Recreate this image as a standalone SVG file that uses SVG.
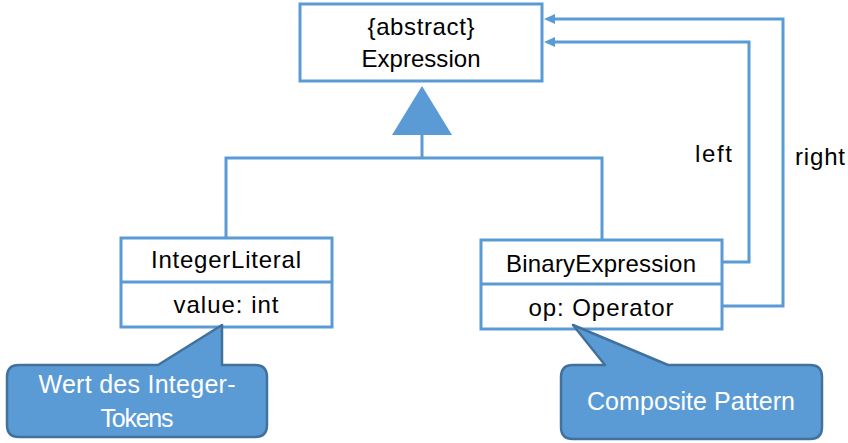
<svg xmlns="http://www.w3.org/2000/svg" width="848" height="443" viewBox="0 0 848 443">
<style>
.box{fill:#fff;stroke:#5B9BD5;stroke-width:3}
.ln{fill:none;stroke:#5B9BD5;stroke-width:3}
.t{font-family:"Liberation Sans",Arial,sans-serif;font-size:24px;fill:#000;text-anchor:middle}
.lbl{font-family:"Liberation Sans",Arial,sans-serif;font-size:24px;fill:#000}
.call{fill:#5B9BD5;stroke:#41719C;stroke-width:2.5;stroke-linejoin:round}
.ct{font-family:"Liberation Sans",Arial,sans-serif;font-size:25px;fill:#fff;text-anchor:middle}
</style>
<g id="connectors">
<polygon points="422,86 392,135 452,135" fill="#5B9BD5"/>
<polyline class="ln" points="422,135 422,158"/>
<polyline class="ln" points="226,237 226,158 602,158 602,239"/>
<polyline class="ln" points="722,262 749,262 749,42 554,42"/>
<polygon points="544,42 555,37 555,47" fill="#5B9BD5"/>
<polyline class="ln" points="722,306 783,306 783,19 554,19"/>
<polygon points="544,19 555,14 555,24" fill="#5B9BD5"/>
<text class="lbl" x="695" y="162" textLength="37">left</text>
<text class="lbl" x="795" y="165" textLength="50">right</text>
</g>
<g id="expression">
<rect class="box" x="300" y="4" width="242" height="77"/>
<text class="t" x="421" y="35" textLength="107">{abstract}</text>
<text class="t" x="421" y="67" textLength="119">Expression</text>
</g>
<g id="integerLiteral">
<rect class="box" x="121" y="238" width="211" height="89"/>
<line class="ln" x1="121" y1="282" x2="332" y2="282"/>
<text class="t" x="226" y="268" textLength="150">IntegerLiteral</text>
<text class="t" x="226" y="313" textLength="105">value: int</text>
</g>
<g id="binaryExpression">
<rect class="box" x="481" y="240" width="241" height="89"/>
<line class="ln" x1="481" y1="284" x2="722" y2="284"/>
<text class="t" x="601" y="272" textLength="190">BinaryExpression</text>
<text class="t" x="601" y="316" textLength="145">op: Operator</text>
</g>
<g id="callout1">
<path class="call" d="M19,365 L158,365 L222,325 L222,365 L255,365 Q267,365 267,377 L267,425 Q267,437 255,437 L19,437 Q7,437 7,425 L7,377 Q7,365 19,365 Z"/>
<text class="ct" x="137" y="393" textLength="197">Wert des Integer-</text>
<text class="ct" x="137" y="427" textLength="73">Tokens</text>
</g>
<g id="callout2">
<path class="call" d="M573,365 L605,365 L573,325 L668,365 L810,365 Q822,365 822,377 L822,427 Q822,439 810,439 L573,439 Q561,439 561,427 L561,377 Q561,365 573,365 Z"/>
<text class="ct" x="691" y="410" textLength="208">Composite Pattern</text>
</g>
</svg>
